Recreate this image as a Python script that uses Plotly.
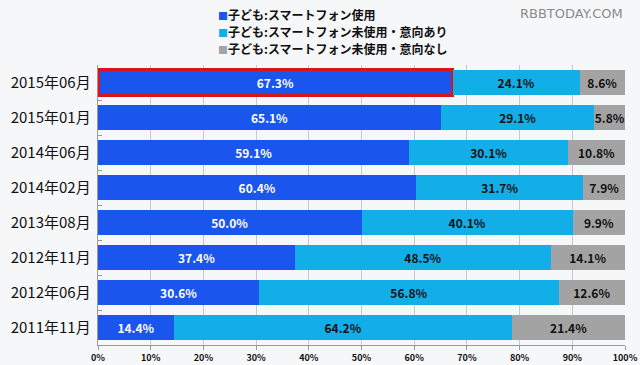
import plotly.graph_objects as go

categories = ["2015年06月", "2015年01月", "2014年06月", "2014年02月",
              "2013年08月", "2012年11月", "2012年06月", "2011年11月"]
use_phone = [67.3, 65.1, 59.1, 60.4, 50.0, 37.4, 30.6, 14.4]
no_use_intent = [24.1, 29.1, 30.1, 31.7, 40.1, 48.5, 56.8, 64.2]
no_use_no_intent = [8.6, 5.8, 10.8, 7.9, 9.9, 14.1, 12.6, 21.4]
series_names = ["子ども:スマートフォン使用",
                "子ども:スマートフォン未使用・意向あり",
                "子ども:スマートフォン未使用・意向なし"]
highlight = "2015年06月"

colors = ["#1a55ee", "#12aee8", "#a3a3a3"]
text_colors = ["white", "#111111", "#111111"]
font = "Noto Sans CJK JP"

fig = go.Figure()
for i, (name, vals) in enumerate(zip(series_names, [use_phone, no_use_intent, no_use_no_intent])):
    if i == 0:
        lc = ["#d8141e" if c == highlight else colors[i] for c in categories]
        lw = [3 if c == highlight else 0 for c in categories]
    else:
        lc = colors[i]
        lw = 0
    fig.add_trace(go.Bar(
        y=categories, x=vals, name=name, orientation="h",
        marker=dict(color=colors[i], line=dict(color=lc, width=lw)),
        text=[f"{v:.1f}%" for v in vals], textposition="inside",
        insidetextanchor="middle", constraintext="none",
        textfont=dict(color=text_colors[i], size=12, family=font, weight="bold"),
        width=0.73, hoverinfo="skip", showlegend=False,
    ))

fig.update_layout(
    barmode="stack", width=640, height=365,
    margin=dict(l=98, r=15, t=65, b=20),
    paper_bgcolor="#f6f7f9", plot_bgcolor="rgba(0,0,0,0)",
    font=dict(family=font, color="#111111"),
    showlegend=False,
)
fig.update_xaxes(range=[0, 100], dtick=10, ticksuffix="%",
                 showgrid=True, gridcolor="#c9c9c9", gridwidth=1,
                 showline=True, linecolor="#9a9a9a", ticks="outside",
                 ticklen=4, tickcolor="#9a9a9a", automargin=False,
                 tickfont=dict(size=9, family=font, weight="bold"),
                 zeroline=False, fixedrange=True)
fig.update_yaxes(categoryorder="array", categoryarray=categories[::-1],
                 showline=True, linecolor="#9a9a9a", ticks="inside",
                 tickson="boundaries", ticklen=4, tickcolor="#9a9a9a",
                 automargin=False,
                 tickfont=dict(size=15, family=font, color="#111111"),
                 ticksuffix=" ", showgrid=False)

# legend drawn as text lines with coloured squares
plot_h = 365 - 65 - 20
for i, name in enumerate(series_names):
    y_px = 15 + 17 * i
    fig.add_annotation(
        text=f"<span style='color:{colors[i]};font-size:10px'>■</span>{name}",
        xref="paper", yref="paper",
        x=(216 - 98) / 527, y=1 + (65 - y_px) / plot_h,
        xanchor="left", yanchor="middle", showarrow=False,
        font=dict(size=12, family=font, weight="bold", color="#111111"))

fig.add_annotation(text="RBBTODAY.COM", xref="paper", yref="paper",
                   x=1.0, y=1 + (65 - 13) / plot_h, xanchor="right", yanchor="middle",
                   showarrow=False,
                   font=dict(size=13, color="#8a8a8a", family="DejaVu Sans"))
fig.write_html("out.html", config={"displayModeBar": False},
               post_script="document.body.style.margin='0';document.body.style.padding='0';")
